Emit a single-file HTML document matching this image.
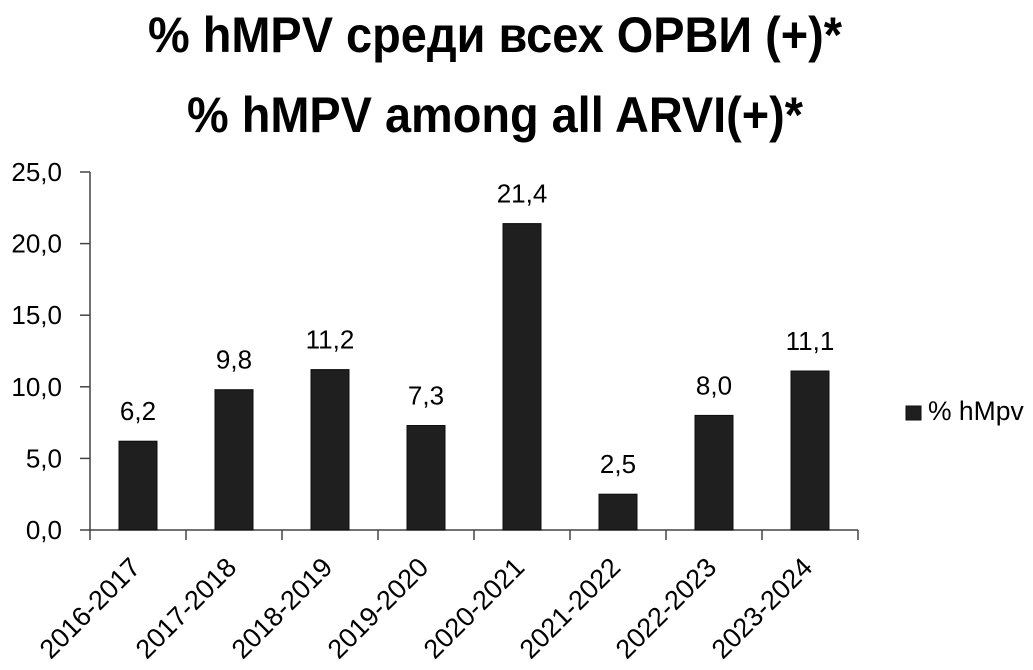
<!DOCTYPE html>
<html>
<head>
<meta charset="utf-8">
<style>
html,body{margin:0;padding:0;background:#fff;}
svg{display:block;}
text{font-family:"Liberation Sans","Noto Sans CJK SC",sans-serif;}
</style>
</head>
<body>
<svg width="1033" height="670" viewBox="0 0 1033 670" xmlns="http://www.w3.org/2000/svg">
<rect width="1033" height="670" fill="#fff"/>
<!-- Titles -->
<text x="148" y="52" font-size="50" font-weight="bold" fill="#000" textLength="694" lengthAdjust="spacingAndGlyphs">% hMPV среди всех ОРВИ (+)*</text>
<text x="187" y="132" font-size="50" font-weight="bold" fill="#000" textLength="616" lengthAdjust="spacingAndGlyphs">% hMPV among all ARVI(+)*</text>

<!-- Axes -->
<g stroke="#444" stroke-width="1.5" fill="none">
<line x1="90" y1="172" x2="90" y2="531"/>
<line x1="89" y1="530" x2="858" y2="530"/>
<line x1="80" y1="530" x2="90" y2="530"/>
<line x1="80" y1="458.4" x2="90" y2="458.4"/>
<line x1="80" y1="386.8" x2="90" y2="386.8"/>
<line x1="80" y1="315.2" x2="90" y2="315.2"/>
<line x1="80" y1="243.6" x2="90" y2="243.6"/>
<line x1="80" y1="172" x2="90" y2="172"/>
<line x1="90" y1="530" x2="90" y2="540"/>
<line x1="186" y1="530" x2="186" y2="540"/>
<line x1="282" y1="530" x2="282" y2="540"/>
<line x1="378" y1="530" x2="378" y2="540"/>
<line x1="474" y1="530" x2="474" y2="540"/>
<line x1="570" y1="530" x2="570" y2="540"/>
<line x1="666" y1="530" x2="666" y2="540"/>
<line x1="762" y1="530" x2="762" y2="540"/>
<line x1="858" y1="530" x2="858" y2="540"/>
</g>

<!-- Y labels -->
<g font-size="26" fill="#000" text-anchor="end">
<text x="62" y="539">0,0</text>
<text x="62" y="467.4">5,0</text>
<text x="62" y="395.8">10,0</text>
<text x="62" y="324.2">15,0</text>
<text x="62" y="252.6">20,0</text>
<text x="62" y="181">25,0</text>
</g>

<!-- Bars -->
<g fill="#1f1f1f" stroke="#0d0d0d" stroke-width="1">
<rect x="119" y="441.2" width="38" height="88.8"/>
<rect x="215" y="389.7" width="38" height="140.3"/>
<rect x="311" y="369.6" width="38" height="160.4"/>
<rect x="407" y="425.5" width="38" height="104.5"/>
<rect x="503" y="223.6" width="38" height="306.4"/>
<rect x="599" y="494.2" width="38" height="35.8"/>
<rect x="695" y="415.4" width="38" height="114.6"/>
<rect x="791" y="371.0" width="38" height="159.0"/>
</g>

<!-- Value labels -->
<g font-size="26" fill="#000" text-anchor="middle">
<text x="138" y="420">6,2</text>
<text x="234" y="368.7">9,8</text>
<text x="330" y="348.6">11,2</text>
<text x="426" y="404.5">7,3</text>
<text x="522" y="202.6">21,4</text>
<text x="618" y="473.2">2,5</text>
<text x="714" y="394.4">8,0</text>
<text x="810" y="350">11,1</text>
</g>

<!-- Category labels -->
<g font-size="27" fill="#000" text-anchor="end">
<text transform="translate(142,569) rotate(-45)">2016-2017</text>
<text transform="translate(238,569) rotate(-45)">2017-2018</text>
<text transform="translate(334,569) rotate(-45)">2018-2019</text>
<text transform="translate(430,569) rotate(-45)">2019-2020</text>
<text transform="translate(526,569) rotate(-45)">2020-2021</text>
<text transform="translate(622,569) rotate(-45)">2021-2022</text>
<text transform="translate(718,569) rotate(-45)">2022-2023</text>
<text transform="translate(814,569) rotate(-45)">2023-2024</text>
</g>

<!-- Legend -->
<rect x="906" y="406" width="15" height="14" fill="#1f1f1f" stroke="#0d0d0d" stroke-width="1"/>
<text x="928" y="420" font-size="26.5" fill="#000">% hMpv</text>
</svg>
</body>
</html>
